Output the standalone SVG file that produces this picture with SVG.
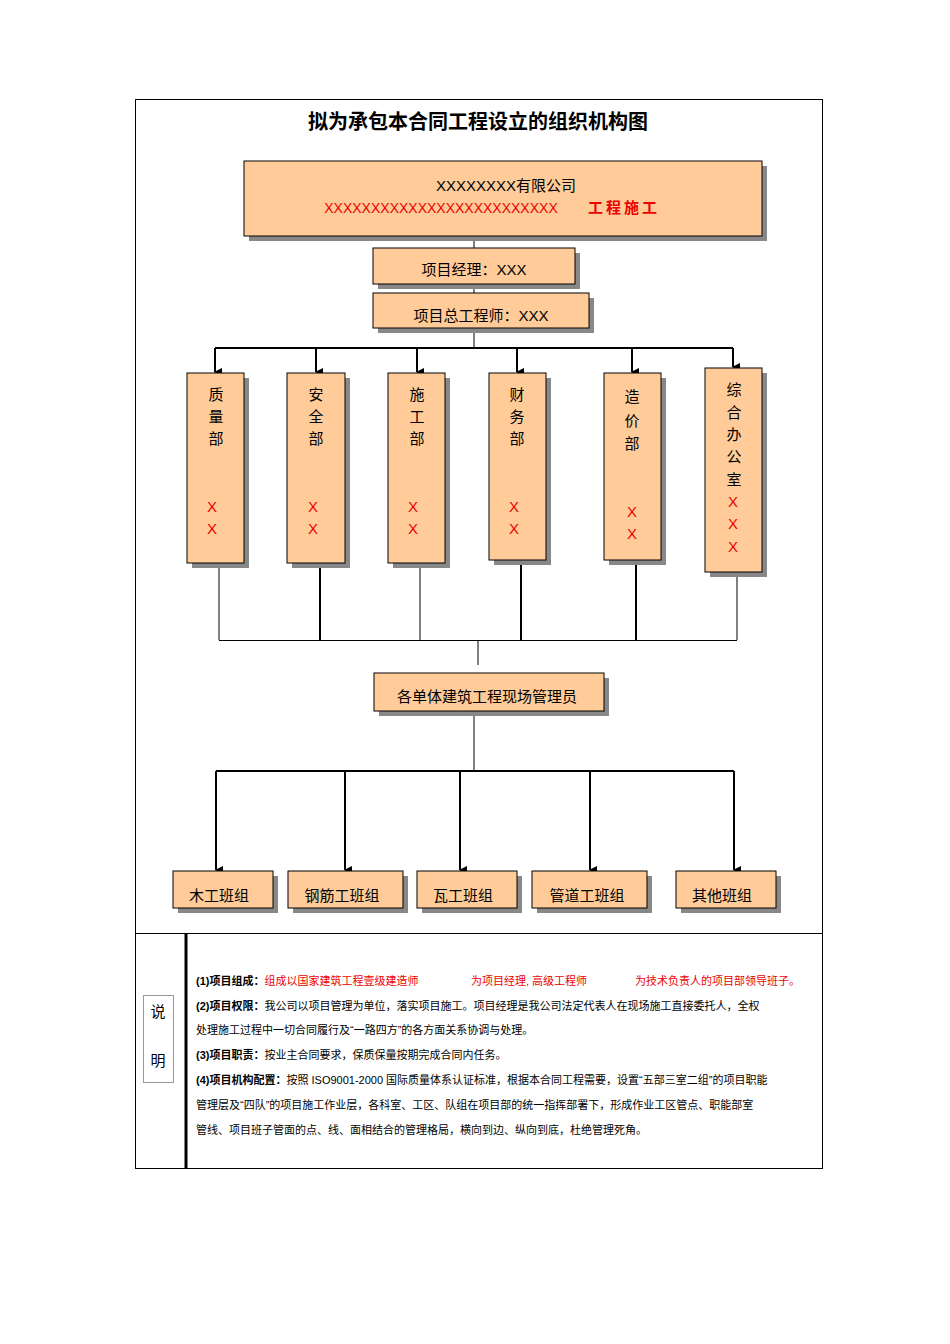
<svg xmlns="http://www.w3.org/2000/svg" width="950" height="1344" viewBox="0 0 950 1344">
<style>
text{font-family:"Liberation Sans","Noto Sans CJK SC",sans-serif;fill:#000}
.b{fill:#FFCC99;stroke:#000;stroke-width:1}
.s{fill:#888}
.t{font-size:15px;text-anchor:middle}
.r{fill:#e00}
.n{font-size:11px}
.l{stroke:#000;fill:none}
</style>
<defs><marker id="a" markerWidth="8" markerHeight="8" refX="4" refY="7" orient="auto" markerUnits="userSpaceOnUse"><path d="M0,0 L8,0 L4,8 z" fill="#000"/></marker></defs>
<rect x="135.5" y="99.5" width="687" height="1069" fill="#fff" stroke="#000"/>
<line x1="135" y1="933.5" x2="822" y2="933.5" stroke="#000"/>
<line x1="186" y1="933" x2="186" y2="1168" stroke="#000" stroke-width="3"/>
<text x="478" y="129" font-size="20" font-weight="bold" text-anchor="middle">拟为承包本合同工程设立的组织机构图</text>
<g id="connectors">
<line class="l" x1="474" y1="236" x2="474" y2="348"/>
<line class="l" x1="215" y1="348" x2="733" y2="348" stroke-width="2"/>
<g stroke="#000" stroke-width="2" marker-end="url(#a)">
<line x1="215" y1="348" x2="215" y2="372"/><line x1="316" y1="348" x2="316" y2="372"/><line x1="417" y1="348" x2="417" y2="372"/><line x1="517" y1="348" x2="517" y2="372"/><line x1="632" y1="348" x2="632" y2="372"/><line x1="733" y1="348" x2="733" y2="367"/>
</g>
<path class="l" d="M219,568V640M320,568V640M420,568V640M521,565V640M636,565V640M737,577V640M219,640.5H737M478,640V665M474,711V771"/>
<g stroke-width="2" stroke="#000"><line x1="320" y1="568" x2="320" y2="640"/><line x1="521" y1="565" x2="521" y2="640"/><line x1="636" y1="565" x2="636" y2="640"/></g>
<line class="l" x1="216" y1="771" x2="734" y2="771" stroke-width="2"/>
<g stroke="#000" stroke-width="2" marker-end="url(#a)">
<line x1="216" y1="771" x2="216" y2="870"/><line x1="345" y1="771" x2="345" y2="870"/><line x1="460" y1="771" x2="460" y2="870"/><line x1="590" y1="771" x2="590" y2="870"/><line x1="734" y1="771" x2="734" y2="870"/>
</g>
</g>
<g id="company"><rect class="s" x="249" y="166" width="518" height="75"/><rect class="b" x="244" y="161" width="518" height="75"/>
<text x="506" y="191" class="t">XXXXXXXX有限公司</text>
<text x="441" y="213" font-size="14" class="r" text-anchor="middle" font-family="Liberation Serif">XXXXXXXXXXXXXXXXXXXXXXXXX</text>
<text x="624" y="213" font-size="15" font-weight="bold" class="r" text-anchor="middle" letter-spacing="3">工程施工</text></g>
<g id="pm"><rect class="s" x="378" y="253" width="202" height="36"/><rect class="b" x="373" y="248" width="202" height="36"/><text x="474" y="275" class="t">项目经理：XXX</text></g>
<g id="ce"><rect class="s" x="378" y="298" width="216" height="35"/><rect class="b" x="373" y="293" width="216" height="35"/><text x="481" y="321" class="t">项目总工程师：XXX</text></g>
<g id="d1"><rect class="s" x="192" y="378" width="57" height="190"/><rect class="b" x="187" y="373" width="57" height="190"/><text class="t" x="216" y="400">质</text><text class="t" x="216" y="422">量</text><text class="t" x="216" y="444">部</text><text class="t r" x="212" y="512">X</text><text class="t r" x="212" y="534">X</text></g>
<g id="d2"><rect class="s" x="292" y="378" width="58" height="190"/><rect class="b" x="287" y="373" width="58" height="190" stroke-width="2"/><text class="t" x="316" y="400">安</text><text class="t" x="316" y="422">全</text><text class="t" x="316" y="444">部</text><text class="t r" x="313" y="512">X</text><text class="t r" x="313" y="534">X</text></g>
<g id="d3"><rect class="s" x="393" y="378" width="57" height="190"/><rect class="b" x="388" y="373" width="57" height="190"/><text class="t" x="417" y="400">施</text><text class="t" x="417" y="422">工</text><text class="t" x="417" y="444">部</text><text class="t r" x="413" y="512">X</text><text class="t r" x="413" y="534">X</text></g>
<g id="d4"><rect class="s" x="494" y="378" width="57" height="187"/><rect class="b" x="489" y="373" width="57" height="187"/><text class="t" x="517" y="400">财</text><text class="t" x="517" y="422">务</text><text class="t" x="517" y="444">部</text><text class="t r" x="514" y="512">X</text><text class="t r" x="514" y="534">X</text></g>
<g id="d5"><rect class="s" x="609" y="378" width="57" height="187"/><rect class="b" x="604" y="373" width="57" height="187"/><text class="t" x="632" y="402">造</text><text class="t" x="632" y="426">价</text><text class="t" x="632" y="449">部</text><text class="t r" x="632" y="517">X</text><text class="t r" x="632" y="539">X</text></g>
<g id="d6"><rect class="s" x="710" y="373" width="57" height="204"/><rect class="b" x="705" y="368" width="57" height="204"/><text class="t" x="734" y="395">综</text><text class="t" x="734" y="418">合</text><text class="t" x="734" y="440">办</text><text class="t" x="734" y="462">公</text><text class="t" x="734" y="485">室</text><text class="t r" x="733" y="507">X</text><text class="t r" x="733" y="529">X</text><text class="t r" x="733" y="552">X</text></g>
<g id="site"><rect class="s" x="379" y="678" width="230" height="38"/><rect class="b" x="374" y="673" width="230" height="38"/><text x="487" y="702" class="t" font-size="16">各单体建筑工程现场管理员</text></g>
<g id="w1"><rect class="s" x="178" y="876" width="100" height="37"/><rect class="b" x="173" y="871" width="100" height="37"/><text x="219" y="901" class="t" font-size="16">木工班组</text></g>
<g id="w2"><rect class="s" x="293" y="876" width="115" height="37"/><rect class="b" x="288" y="871" width="115" height="37"/><text x="342" y="901" class="t" font-size="16">钢筋工班组</text></g>
<g id="w3"><rect class="s" x="422" y="876" width="100" height="37"/><rect class="b" x="417" y="871" width="100" height="37"/><text x="463" y="901" class="t" font-size="16">瓦工班组</text></g>
<g id="w4"><rect class="s" x="537" y="876" width="115" height="37"/><rect class="b" x="532" y="871" width="115" height="37"/><text x="587" y="901" class="t" font-size="16">管道工班组</text></g>
<g id="w5"><rect class="s" x="681" y="876" width="100" height="37"/><rect class="b" x="676" y="871" width="100" height="37"/><text x="722" y="901" class="t" font-size="16">其他班组</text></g>
<g id="note"><rect x="143.5" y="995.5" width="30" height="87" fill="#fff" stroke="#999"/>
<text x="158" y="1017" class="t">说</text><text x="158" y="1066" class="t">明</text>
<text class="n" x="196" y="985"><tspan font-weight="bold">(1)项目组成：</tspan><tspan class="r">组成以国家建筑工程壹级建造师</tspan><tspan class="r" x="471">为项目经理, 高级工程师</tspan><tspan class="r" x="635">为技术负责人的项目部领导班子。</tspan></text>
<text class="n" x="196" y="1010"><tspan font-weight="bold">(2)项目权限：</tspan>我公司以项目管理为单位，落实项目施工。项目经理是我公司法定代表人在现场施工直接委托人，全权</text>
<text class="n" x="196" y="1034">处理施工过程中一切合同履行及“一路四方”的各方面关系协调与处理。</text>
<text class="n" x="196" y="1059"><tspan font-weight="bold">(3)项目职责：</tspan>按业主合同要求，保质保量按期完成合同内任务。</text>
<text class="n" x="196" y="1084"><tspan font-weight="bold">(4)项目机构配置：</tspan>按照 ISO9001-2000 国际质量体系认证标准，根据本合同工程需要，设置“五部三室二组”的项目职能</text>
<text class="n" x="196" y="1109">管理层及“四队”的项目施工作业层，各科室、工区、队组在项目部的统一指挥部署下，形成作业工区管点、职能部室</text>
<text class="n" x="196" y="1134">管线、项目班子管面的点、线、面相结合的管理格局，横向到边、纵向到底，杜绝管理死角。</text>
</g>
</svg>
